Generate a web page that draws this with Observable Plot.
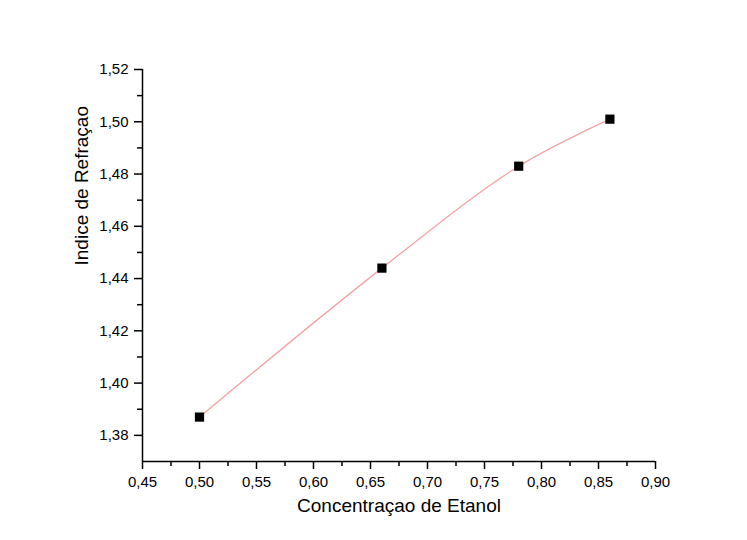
<!DOCTYPE html>
<html>
<head>
<meta charset="utf-8">
<script src="https://cdn.jsdelivr.net/npm/d3@7"></script>
<script src="https://cdn.jsdelivr.net/npm/@observablehq/plot@0.6"></script>
<style>
  html, body { margin: 0; padding: 0; background: #ffffff; }
  #chart { width: 747px; height: 540px; }
  svg { font-family: "Liberation Sans", Arial, sans-serif; }
</style>
</head>
<body>
<div id="chart"></div>
<script>
// Data
const concentration = [0.50, 0.66, 0.78, 0.86];
const refractiveIndex = [1.387, 1.444, 1.483, 1.501];
const xTicks = [0.45, 0.50, 0.55, 0.60, 0.65, 0.70, 0.75, 0.80, 0.85, 0.90];
const xMinor = [0.475, 0.525, 0.575, 0.625, 0.675, 0.725, 0.775, 0.825, 0.875];
const yTicks = [1.38, 1.40, 1.42, 1.44, 1.46, 1.48, 1.50, 1.52];
const yMinor = [1.39, 1.41, 1.43, 1.45, 1.47, 1.49, 1.51];
const xDomain = [0.45, 0.90];
const yDomain = [1.37, 1.52];
const xLabel = "Concentraçao de Etanol";
const yLabel = "Indice de Refraçao";

const data = concentration.map((x, i) => ({x, y: refractiveIndex[i]}));
const locale = d3.formatLocale({decimal: ",", thousands: ".", grouping: [3], currency: ["", ""]});
const fmt = locale.format(".2f");

const chart = Plot.plot({
  width: 747,
  height: 540,
  marginLeft: 142,
  marginRight: 92,
  marginTop: 69,
  marginBottom: 79,
  style: {fontFamily: "Liberation Sans, Arial, sans-serif", fontSize: "15px", background: "transparent", color: "#000"},
  x: {domain: xDomain},
  y: {domain: yDomain},
  marks: [
    Plot.axisX({ticks: xTicks, tickSize: 8, tickPadding: 7, tickFormat: fmt, label: null, strokeWidth: 1.5, fontSize: 15}),
    Plot.axisX({ticks: xMinor, tickSize: 5, tickFormat: () => "", label: null, strokeWidth: 1.5}),
    Plot.axisY({ticks: yTicks, tickSize: 8, tickPadding: 6, tickFormat: fmt, label: null, strokeWidth: 1.5, fontSize: 15}),
    Plot.axisY({ticks: yMinor, tickSize: 5, tickFormat: () => "", label: null, strokeWidth: 1.5}),
    Plot.ruleX([xDomain[0]], {stroke: "#000", strokeWidth: 1.5}),
    Plot.ruleY([yDomain[0]], {stroke: "#000", strokeWidth: 1.5}),
    Plot.line(data, {x: "x", y: "y", curve: "catmull-rom", stroke: "#f5a3a3", strokeWidth: 1.3}),
    Plot.dot(data, {x: "x", y: "y", symbol: "square", r: 5.2, fill: "#000", stroke: "none"}),
    Plot.text([xLabel], {frameAnchor: "bottom", dy: 50, text: d => d, fontSize: 19, fill: "#000"}),
    Plot.text([yLabel], {frameAnchor: "left", dx: -61, rotate: -90, text: d => d, fontSize: 19, fill: "#000"})
  ]
});
document.getElementById("chart").appendChild(chart);
</script>
</body>
</html>
